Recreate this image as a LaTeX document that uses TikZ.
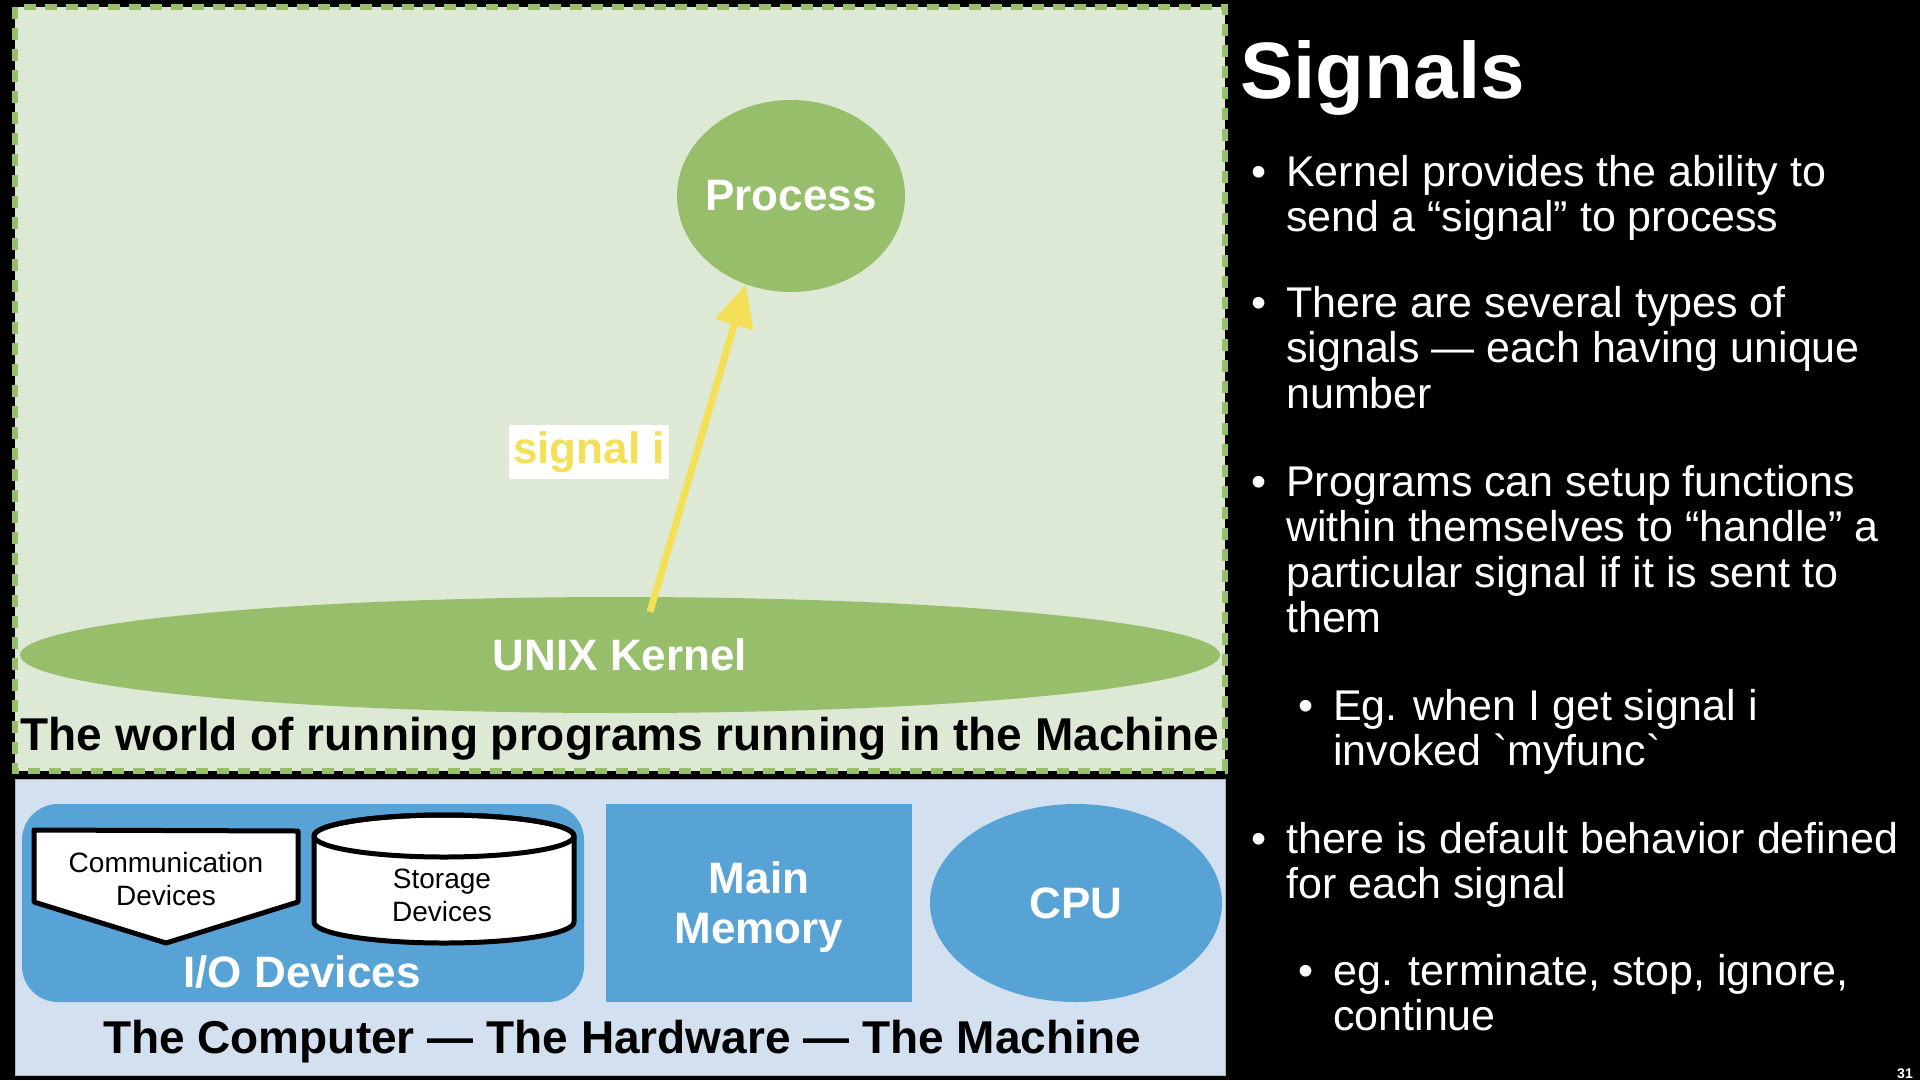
\documentclass[tikz,border=0pt]{standalone}
\usepackage{fontspec}
\setmainfont{Liberation Sans}
\newfontfamily\rawfont{Liberation Sans}[Ligatures=TeXOff]
\usetikzlibrary{arrows.meta,shapes.geometric}
\definecolor{worldbg}{HTML}{DDE9D5}
\definecolor{leaf}{HTML}{97BE6A}
\definecolor{hwbg}{HTML}{D3E0EF}
\definecolor{hwblue}{HTML}{58A3D5}
\definecolor{sigyellow}{HTML}{F4DF58}

\begin{document}
\begin{tikzpicture}[x=1pt,y=-1pt,
	big/.style={font=\fontsize{44}{50}\selectfont\bfseries, text=white, align=center, inner sep=0},
	caption/.style={font=\fontsize{46}{50}\selectfont\bfseries, text=black, inner sep=0},
	small/.style={font=\fontsize{28}{33}\selectfont, text=black, align=center, inner sep=0},
	devline/.style={draw=black, line width=5pt, fill=white, line join=round},
	item/.style={font=\fontsize{43}{45.5}\selectfont, text=white, align=left, inner sep=0, anchor=base west},
	dot/.style={font=\fontsize{43}{45.5}\selectfont, text=white, inner sep=0, anchor=base west},
	sigarrow/.style={draw=sigyellow, line width=7pt, -{Triangle[length=42pt,width=38pt]}}]
	\fill[black] (0,0) rectangle (1920,1080);
	\useasboundingbox (0,0) rectangle (1920,1080);

	% the running world
	\filldraw[fill=worldbg, draw=leaf, line width=6pt, dash pattern=on 12pt off 9pt] (15,7) rectangle (1225,771);
	\node[ellipse, fill=leaf, minimum width=228pt, minimum height=192pt, big, inner xsep=-9pt] (proc) at (791,196) {Process};
	\node[ellipse, fill=leaf, minimum width=1200pt, minimum height=116pt, big] (kernel) at (620,655) {UNIX Kernel};
	\coordinate (ksrc) at ([xshift=30pt,yshift=-15pt]kernel.north);
	\draw[sigarrow] (ksrc) -- (proc.243);
	\node[fill=white, inner xsep=4pt, inner ysep=6pt, font=\fontsize{44}{50}\selectfont\bfseries, text=sigyellow] (siglbl) at (589,452) {signal i};
	\node[caption] (world) at (620,739) {The world of running programs running in the Machine};

	% the machine
	\filldraw[fill=hwbg, draw=gray!60, line width=1pt] (15,779) rectangle (1225,1075);
	\node[fill=hwblue, rounded corners=36pt, minimum width=562pt, minimum height=198pt] (io) at (303,903) {};
	\draw[devline] (34,830) -- (298,831) -- (298,902) -- (166,943) -- (34,902) -- cycle;
	\node[small] (comm) at (166,879) {Communication\\Devices};
	\draw[devline] (314,836) -- (314,922) arc[start angle=180, end angle=0, x radius=130, y radius=21]
		-- (574,836) arc[start angle=0, end angle=-180, x radius=130, y radius=21];
	\draw[devline, fill=none] (444,836) ellipse[x radius=130, y radius=21];
	\node[small] (store) at (442,895) {Storage\\Devices};
	\node[big] (iolbl) at (302,972) {I/O Devices};
	\node[fill=hwblue, minimum width=306pt, minimum height=198pt] (mem) at (759,903) {};
	\node[big] (memlbl) at (759,907) {Main\\Memory};
	\node[ellipse, fill=hwblue, minimum width=292pt, minimum height=198pt, big] (cpu) at (1076,903) {CPU};
	\node[caption] (hw) at (622,1042) {The Computer — The Hardware — The Machine};

	% slide text (base of a multi-line node is its last line)
	\node[font=\fontsize{80}{82}\selectfont\bfseries, text=white, inner sep=0, anchor=base west] (title) at (1240,98) {Signals};
	\node[dot] (d1) at (1251,186) {•};
	\node[item] (t1) at (1286,231.5) {Kernel provides the ability to\\send a “signal” to process};
	\node[dot] (d2) at (1251,317) {•};
	\node[item] (t2) at (1286,408) {There are several types of\\signals — each having unique\\number};
	\node[dot] (d3) at (1251,496) {•};
	\node[item] (t3) at (1286,632.5) {Programs can setup functions\\within themselves to “handle” a\\particular signal if it is sent to\\them};
	\node[dot] (d4) at (1298,720) {•};
	\node[item] (t4) at (1333,765.5) {Eg. when I get signal i\\invoked {\rawfont`}myfunc{\rawfont`}};
	\node[dot] (d5) at (1251,853) {•};
	\node[item] (t5) at (1286,898.5) {there is default behavior defined\\for each signal};
	\node[dot] (d6) at (1298,985) {•};
	\node[item] (t6) at (1333,1030.5) {eg. terminate, stop, ignore,\\continue};
	\node[font=\fontsize{14}{16}\selectfont\bfseries, text=white, inner sep=0, anchor=base east] (pg) at (1913,1078) {31};
\end{tikzpicture}
\end{document}
